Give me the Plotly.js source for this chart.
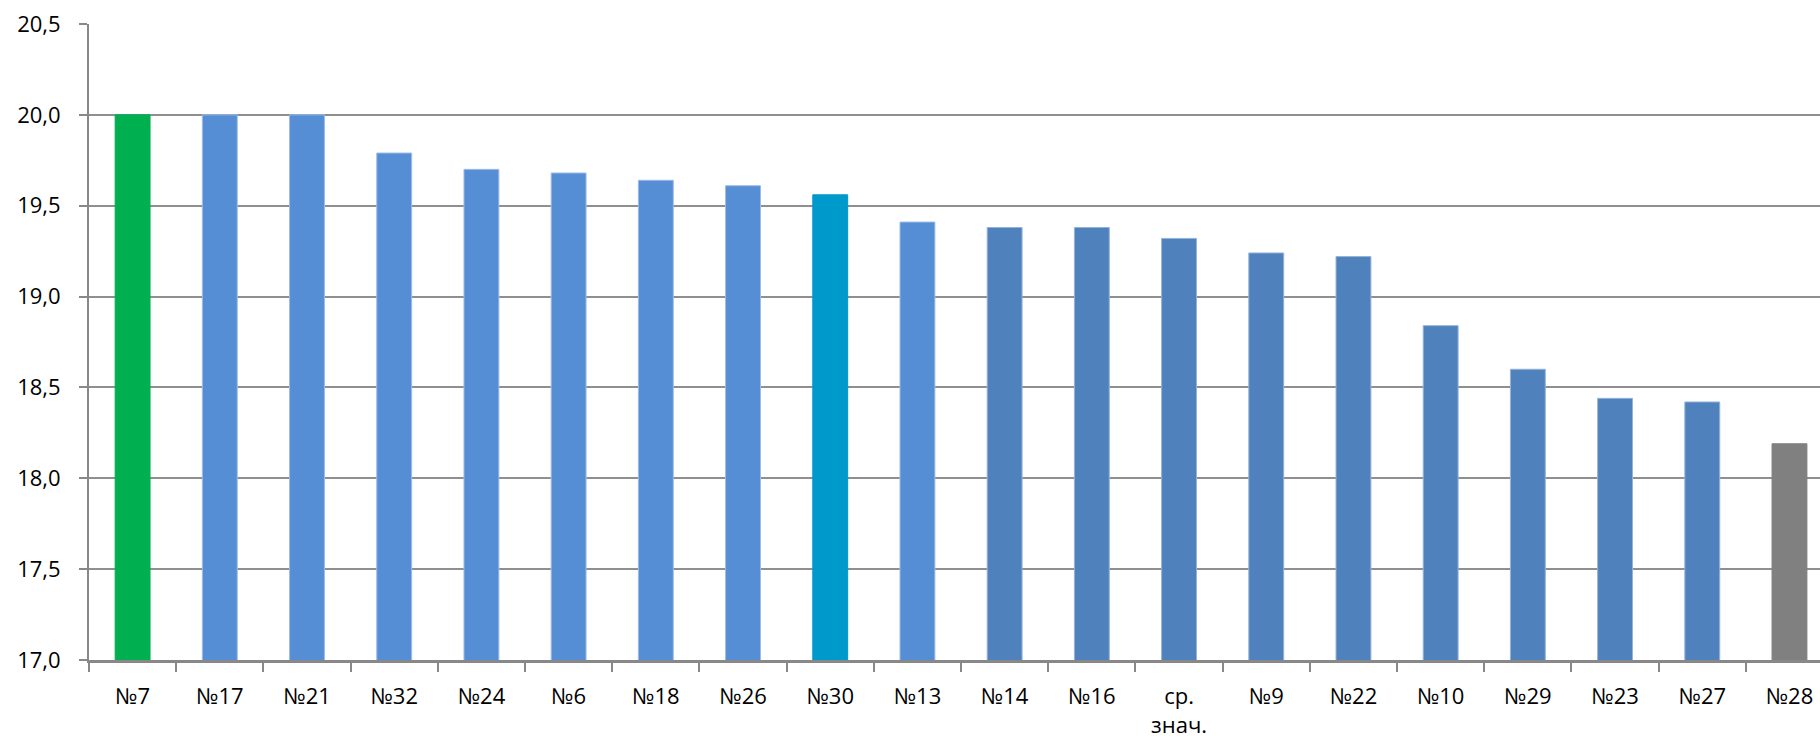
<!DOCTYPE html>
<html>
<head>
<meta charset="utf-8">
<script src="https://cdn.plot.ly/plotly-3.0.1.min.js"></script>
<style>
  html, body { margin: 0; padding: 0; background: #ffffff; }
  #chart { width: 1820px; height: 741px; }
</style>
</head>
<body>
<div id="chart"></div>
<script>
// Data
const categories = ["№7", "№17", "№21", "№32", "№24", "№6", "№18", "№26", "№30", "№13",
                    "№14", "№16", "ср.<br>знач.", "№9", "№22", "№10", "№29", "№23", "№27", "№28"];
const values = [20.00, 20.00, 20.00, 19.79, 19.70, 19.68, 19.64, 19.61, 19.56, 19.41,
                19.38, 19.38, 19.32, 19.24, 19.22, 18.84, 18.60, 18.44, 18.42, 18.19];
const yTicks = [17.0, 17.5, 18.0, 18.5, 19.0, 19.5, 20.0, 20.5];

// Styles (per-bar colours)
const GREEN = "#00B050", LIGHT = "#558ED5", CYAN = "#0099CC", DARK = "#4F81BD", GRAY = "#808080";
const barColors = [GREEN, LIGHT, LIGHT, LIGHT, LIGHT, LIGHT, LIGHT, LIGHT, CYAN, LIGHT,
                   DARK, DARK, DARK, DARK, DARK, DARK, DARK, DARK, DARK, GRAY];
const edgeColors = barColors.map(c => c === LIGHT ? "#9DBBE6" : (c === DARK ? "#95B3D7" : c));

const FONT = "'Open Sans', 'Noto Sans', sans-serif";

const trace = {
  type: "bar",
  x: categories,
  y: values,
  width: 0.4,
  marker: { color: barColors, line: { color: edgeColors, width: 1 } },
  hoverinfo: "x+y"
};

const layout = {
  width: 1820,
  height: 741,
  margin: { l: 89, r: 0, t: 24, b: 81, pad: 0 },
  paper_bgcolor: "#ffffff",
  plot_bgcolor: "#ffffff",
  showlegend: false,
  separators: ", ",
  font: { family: FONT, size: 22, color: "#000000" },
  xaxis: {
    type: "category",
    range: [-0.5, 19.35],
    showgrid: false,
    showline: true,
    linecolor: "#888888",
    linewidth: 3,
    ticks: "outside",
    tickson: "boundaries",
    ticklen: 9,
    tickwidth: 2,
    tickcolor: "#888888",
    tickfont: { family: FONT, size: 22, color: "#000000" },
    ticklabelstandoff: 15,
    zeroline: false,
    fixedrange: true
  },
  yaxis: {
    range: [17, 20.5],
    tickvals: yTicks,
    tickformat: ".1f",
    showgrid: true,
    gridcolor: "#8f8f8f",
    gridwidth: 2,
    showline: true,
    linecolor: "#888888",
    linewidth: 2,
    ticks: "outside",
    ticklen: 8,
    tickwidth: 2,
    tickcolor: "#888888",
    tickfont: { family: FONT, size: 22, color: "#000000" },
    ticklabelstandoff: 14,
    zeroline: false,
    fixedrange: true
  }
};

Plotly.newPlot("chart", [trace], layout, { displayModeBar: false, staticPlot: true });
</script>
</body>
</html>
